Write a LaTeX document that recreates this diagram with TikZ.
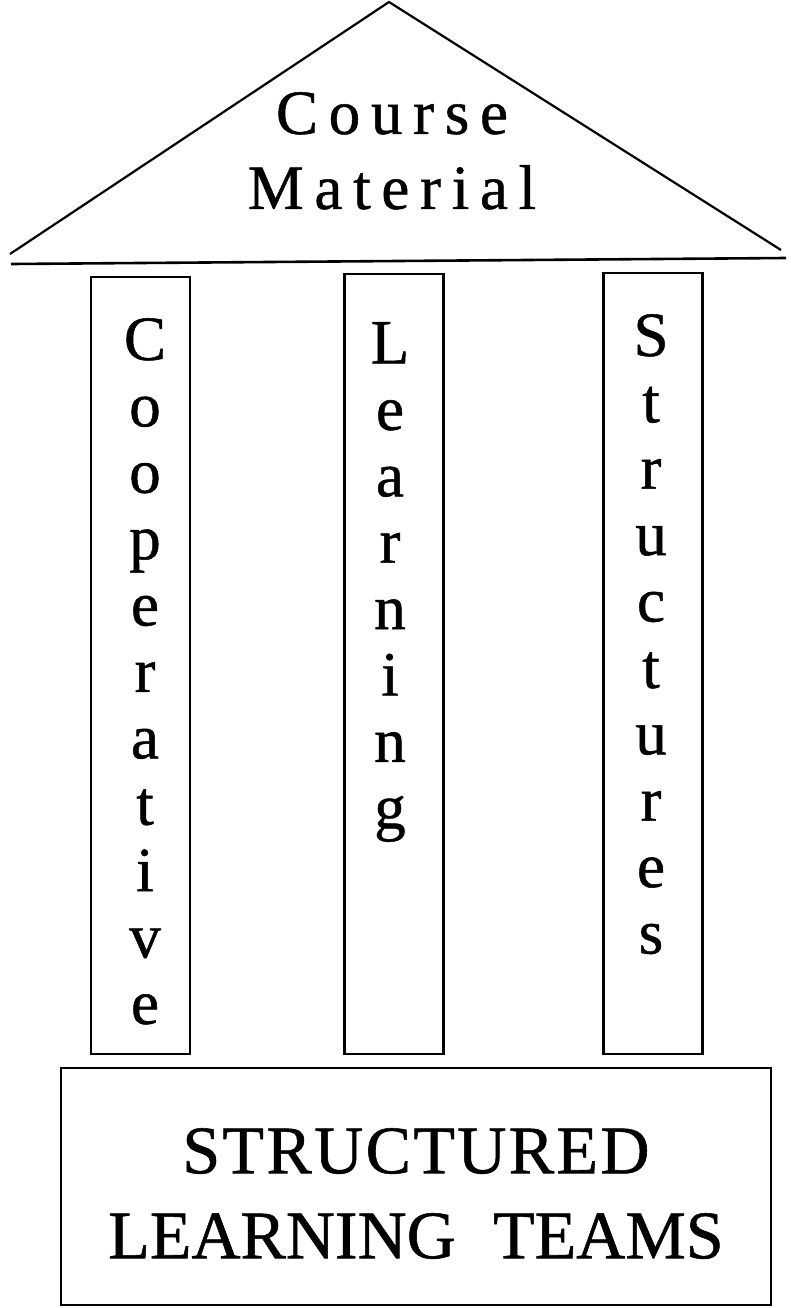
\documentclass[tikz,border=0pt]{standalone}
\usepackage{fontspec}
\setmainfont{Liberation Serif}[FakeBold=0.8]
\usetikzlibrary{positioning}

\begin{document}
\begin{tikzpicture}[
        x=1pt, y=-1pt,
        % --- STILURI ---
        outline/.style={
                draw=black,
                line width=2.6pt
            },
        pillar/.style={
                outline,
                rectangle,
                inner sep=0pt,
                minimum width=99pt
            },
        letters/.style={
                align=center,
                inner sep=0pt,
                anchor=north,
                font=\fontsize{63pt}{66.4pt}\selectfont
            },
        rooftext/.style={
                align=center,
                inner sep=0pt,
                anchor=north,
                font=\fontsize{63pt}{75pt}\selectfont\addfontfeature{LetterSpace=17}
            },
        basetext/.style={
                align=center,
                inner sep=0pt,
                anchor=north,
                font=\fontsize{68pt}{85pt}\selectfont
            }
    ]
    \useasboundingbox (0,0) rectangle (791,1308);

    % 1. Acoperisul
    \coordinate (apex) at (389,2);
    \coordinate (eaveL) at (10,254);
    \coordinate (eaveR) at (781,250);
    \draw[outline, line width=2.2pt] (eaveL) -- (apex) -- (eaveR);
    \coordinate (beamL) at (11,264);
    \coordinate (beamR) at (786,258);
    \draw[outline] (beamL) -- (beamR);
    \node[rooftext] (material) at (392,92) {Course\\Material};

    % 2. Coloanele
    \node[pillar, minimum height=777pt] (pillarcoop) at (140.5,665.5) {};
    \node[pillar, minimum height=780pt] (pillarlearn) at (394,664) {};
    \node[pillar, minimum height=781pt] (pillarstruct) at (653,663.5) {};

    \node[letters] (wordcoop) at (145,318) {C\\o\\o\\p\\e\\r\\a\\t\\i\\v\\e};
    \node[letters] (wordlearn) at (390,322) {L\\e\\a\\r\\n\\i\\n\\g};
    \node[letters] (wordstruct) at (651,314) {S\\t\\r\\u\\c\\t\\u\\r\\e\\s};

    % 3. Fundatia
    \node[outline, rectangle, minimum width=710pt, minimum height=237pt] (teams) at (416,1186.5) {};
    \node[basetext] (teamstext) at (teams.center |- 0,1128)
        {{\addfontfeature{LetterSpace=3.5}STRUCTURED}\\LEARNING\hspace{0.55em}TEAMS};

\end{tikzpicture}
\end{document}
